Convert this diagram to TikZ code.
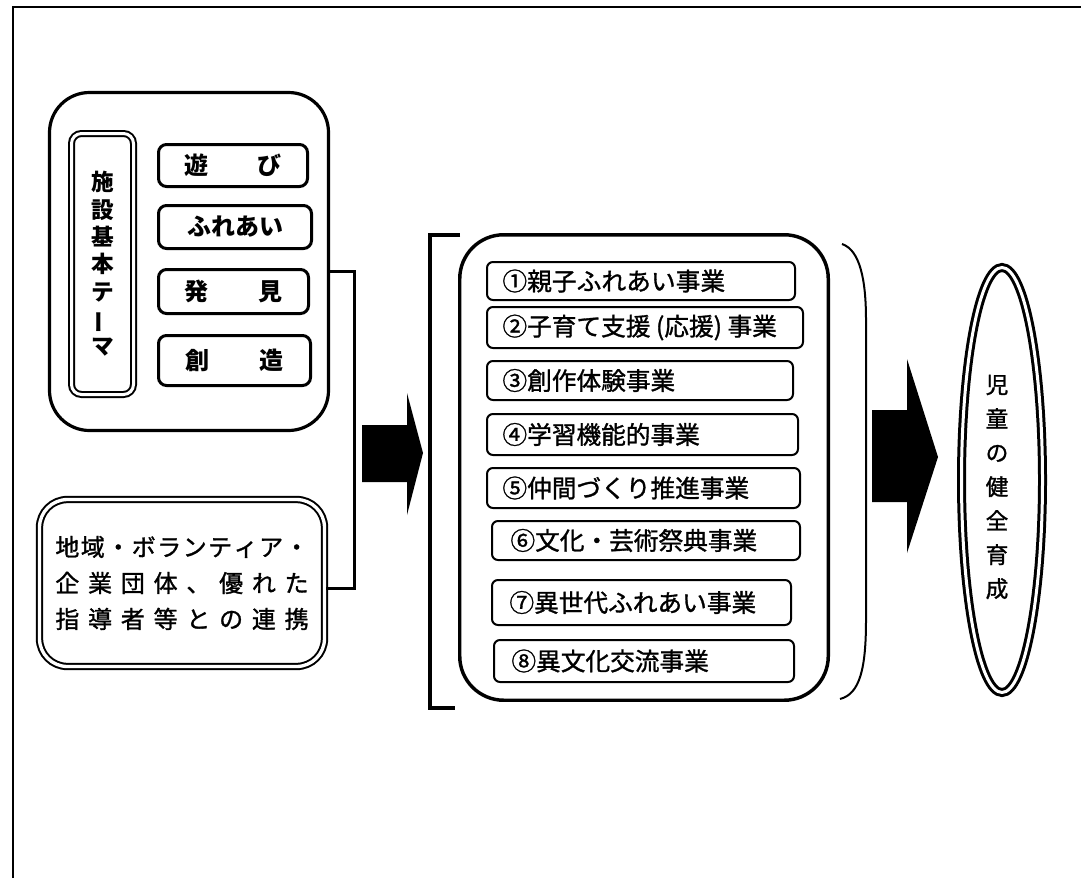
\documentclass[tikz,border=0pt]{standalone}
\usepackage{fontspec}
\usepackage{graphicx}
\setmainfont{Noto Sans CJK JP}
\newfontfamily\gothicmed[FakeBold=1.2]{Noto Sans CJK JP}
\usetikzlibrary{calc,shapes.geometric}

\tikzset{every picture/.style={line width=0.75pt}}
\tikzset{
  frame line/.style={line width=1.6pt},
  group box/.style={draw, line width=2.4pt, inner sep=0pt},
  theme box/.style={draw, line width=2.25pt, rounded corners=6pt, inner sep=0pt, font=\bfseries\fontsize{18pt}{20pt}\selectfont},
  title box/.style={draw, double, line width=1.5pt, double distance=2.25pt, rounded corners=7.5pt, inner sep=0pt, align=center, font=\bfseries\fontsize{17pt}{20.5pt}\selectfont},
  link box/.style={draw, double, line width=1.5pt, double distance=2.5pt, rounded corners=21pt, inner sep=0pt, align=center, font=\gothicmed\fontsize{18pt}{27pt}\selectfont},
  prog box/.style={draw, line width=1.5pt, rounded corners=4.5pt, inner sep=0pt},
  prog text/.style={anchor=west, inner sep=0pt, font=\gothicmed\fontsize{18.5pt}{20pt}\selectfont},
  goal box/.style={draw, ellipse, double, line width=2.25pt, double distance=2.25pt, inner sep=0pt},
  goal text/.style={inner sep=0pt, align=center, font=\gothicmed\fontsize{17pt}{25.5pt}\selectfont},
  link/.style={line width=2.25pt},
  block arrow/.style={draw=none, fill=black},
}

\begin{document}
\begin{tikzpicture}[x=0.75pt,y=0.75pt,yscale=-1,xscale=1]
	\useasboundingbox (0,0) rectangle (1081,878);

	%Shape: Frame
	\draw [frame line] (13,878) -- (13,7) -- (1081,7) ;

	%Shape: Rounded Rect (basic themes)
	\node [group box, rounded corners=30pt, minimum width=209.25pt, minimum height=253.5pt] (themes) at (189,261.5) {};
	%Shape: Double Rounded Rect (title)
	\node [title box, minimum width=46.5pt, minimum height=195.75pt] (title) at (102.5,264) {施\\設\\基\\本\\テ\\\rotatebox[origin=c]{90}{ー}\\マ};
	%Shape: Rounded Rect (themes)
	\node [theme box, minimum width=111.75pt, minimum height=31.5pt] (asobi) at (233,165.5) {\makebox[73.5pt]{遊\hfill び}};
	\node [theme box, minimum width=114.75pt, minimum height=32.25pt] (fureai) at (235,227) {ふれあい};
	\node [theme box, minimum width=112.5pt, minimum height=33pt] (hakken) at (233.5,291.5) {\makebox[73.5pt]{発\hfill 見}};
	\node [theme box, minimum width=114pt, minimum height=37.5pt] (souzou) at (234.5,360.5) {\makebox[73.5pt]{創\hfill 造}};

	%Shape: Double Rounded Rect (partners)
	\node [link box, minimum width=213.75pt, minimum height=125.25pt] (renkei) at (182,583) {%
		\makebox[190pt]{地\hfill 域\hfill ・\hfill ボ\hfill ラ\hfill ン\hfill テ\hfill ィ\hfill ア\hfill ・}\\
		\makebox[190pt]{企\hfill 業\hfill 団\hfill 体\hfill 、\hfill 優\hfill れ\hfill た}\\
		\makebox[190pt]{指\hfill 導\hfill 者\hfill 等\hfill と\hfill の\hfill 連\hfill 携}};

	%Straight Lines (bracket link)
	\draw [link] ($(themes.east)+(0,10)$) -- ++(24,0) |- ($(renkei.east)+(0,5)$) ;

	%Shape: Block Arrow
	\draw [block arrow] (362,425) -- (407,425) -- (407,393) -- (423,453) -- (407,515) -- (407,482) -- (362,482) -- cycle ;

	%Shape: Left Bracket
	\draw [line width=3pt] (460,235) -- (430,235) -- (430,708) -- (455,708) ;

	%Shape: Rounded Rect (programs)
	\node [group box, line width=2.6pt, rounded corners=33pt, minimum width=276.4pt, minimum height=349.1pt] (programs) at (644,467.5) {};
	\node [prog box, minimum width=231pt, minimum height=28.5pt] (p1) at (641,281) {};
	\node [prog box, minimum width=237pt, minimum height=30.75pt] (p2) at (645,327.5) {};
	\node [prog box, minimum width=229.5pt, minimum height=29.25pt] (p3) at (640,380.5) {};
	\node [prog box, minimum width=233.25pt, minimum height=30.75pt] (p4) at (642.5,434.5) {};
	\node [prog box, minimum width=234.75pt, minimum height=30pt] (p5) at (643.5,488) {};
	\node [prog box, minimum width=231pt, minimum height=29.25pt] (p6) at (646,540.5) {};
	\node [prog box, minimum width=224.25pt, minimum height=33.75pt] (p7) at (641.5,602.5) {};
	\node [prog box, minimum width=225pt, minimum height=31.5pt] (p8) at (644,661) {};
	\node [prog text] (t1) at (502,281) {\makebox[167pt]{①\hfill 親\hfill 子\hfill ふ\hfill れ\hfill あ\hfill い\hfill 事\hfill 業}};
	\node [prog text] (t2) at (502,327.5) {②子育て支援 (応援) 事業};
	\node [prog text] (t3) at (502,380.5) {③創作体験事業};
	\node [prog text] (t4) at (502,434.5) {④学習機能的事業};
	\node [prog text] (t5) at (502,488) {⑤仲間づくり推進事業};
	\node [prog text] (t6) at (510,540.5) {⑥文化・芸術祭典事業};
	\node [prog text] (t7) at (509,602.5) {⑦異世代ふれあい事業};
	\node [prog text] (t8) at (511,661) {⑧異文化交流事業};

	%Curve Lines (right parenthesis)
	\draw [line width=1.5pt] (842,244) .. controls (860,250) and (866,280) .. (866,320) -- (866,620) .. controls (866,668) and (860,694) .. (840,699) ;

	%Shape: Block Arrow
	\draw [block arrow] (872,410) -- (907,410) -- (907,359) -- (938,457) -- (907,553) -- (907,502) -- (872,502) -- cycle ;

	%Shape: Double Ellipse (goal)
	\node [goal box, minimum width=60.75pt, minimum height=318.75pt] (goal) at (1002,480) {};
	\node [goal text] (goaltext) at (997,487) {児\\童\\の\\健\\全\\育\\成};

\end{tikzpicture}
\end{document}
